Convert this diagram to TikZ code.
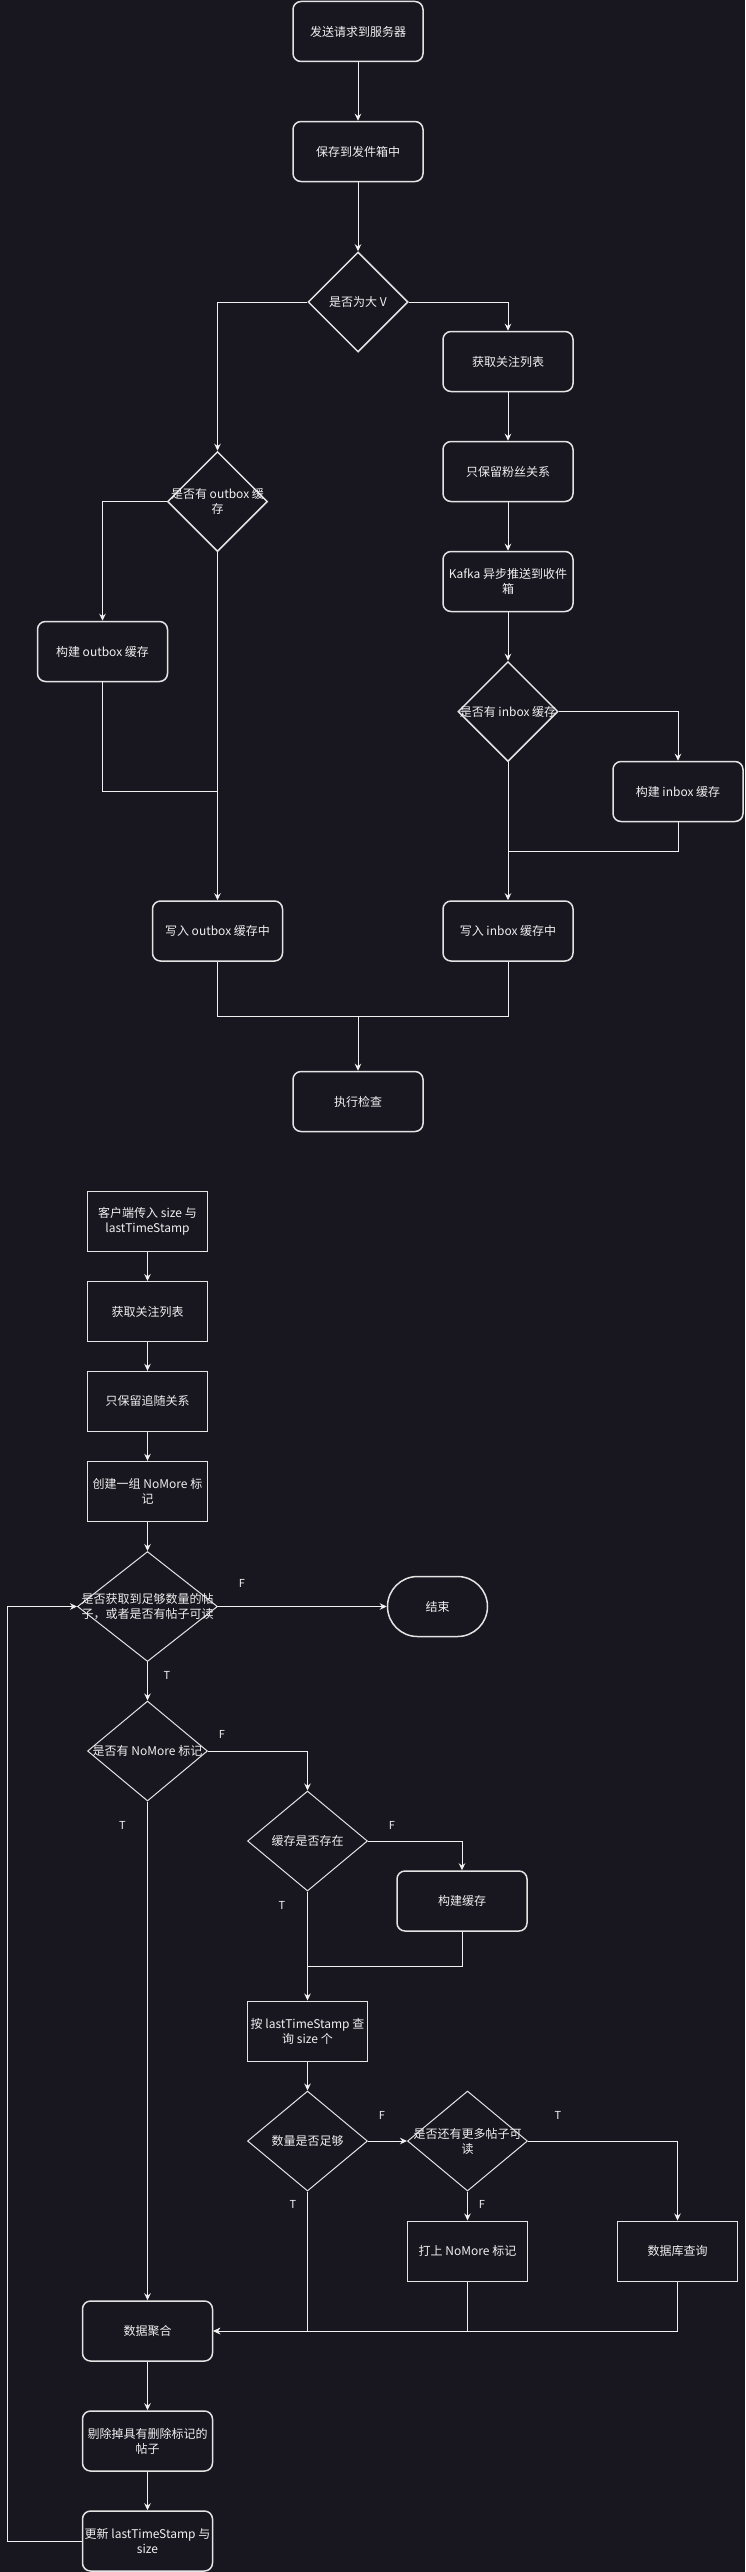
\documentclass[tikz,border=0pt]{standalone}
\usepackage{fontspec}
\setmainfont{Noto Sans CJK SC}
\usetikzlibrary{shapes.geometric,arrows.meta}
\definecolor{bgc}{HTML}{18161F}
\definecolor{lnc}{HTML}{F0F0F0}
\definecolor{shc}{HTML}{E4E4E4}
\definecolor{txc}{HTML}{F0F0F0}
\begin{document}
\begin{tikzpicture}[x=1pt,y=-1pt,
  every node/.style={font=\fontsize{12}{15}\selectfont, text=txc, align=center},
  rbox/.style={draw=shc, line width=1.5pt, rounded corners=8pt, minimum width=130pt, minimum height=60pt, inner sep=0pt},
  sbox/.style={draw=shc, line width=1pt, minimum width=120pt, minimum height=60pt, inner sep=0pt},
  dec/.style={diamond, draw=shc, line width=1pt, inner sep=0pt},
  dect/.style={dec, line width=1.5pt, minimum width=100pt, minimum height=100pt},
  lbl/.style={font=\fontsize{11}{13}\selectfont, inner sep=0pt},
  conn/.style={draw=lnc, line width=1pt, -{Stealth[length=7pt,width=6.5pt]}},
  plain/.style={draw=lnc, line width=1pt},
]
\fill[bgc] (0,0) rectangle (745,2572);
\useasboundingbox (0,0) rectangle (745,2572);

% ---------- top flowchart ----------
\node[rbox] (s1) at (358,31.5) {发送请求到服务器};
\node[rbox] (s2) at (358,151.5) {保存到发件箱中};
\node[dect, label={[name=d1t]center:是否为大 V}] (d1) at (358,302) {};
\node[rbox] (s3) at (508,361.5) {获取关注列表};
\node[rbox] (s4) at (508,471.5) {只保留粉丝关系};
\node[rbox] (s5) at (508,581.5) {Kafka 异步推送到收件\\箱};
\node[dect, label={[name=d2t]center:{是否有 outbox 缓\\存}}] (d2) at (217.5,501.5) {};
\node[rbox] (s6) at (102.5,651.5) {构建 outbox 缓存};
\node[dect, label={[name=d3t]center:是否有 inbox 缓存}] (d3) at (508,711.5) {};
\node[rbox] (s7) at (678,791.5) {构建 inbox 缓存};
\node[rbox] (s8) at (217.5,931) {写入 outbox 缓存中};
\node[rbox] (s9) at (508,931) {写入 inbox 缓存中};
\node[rbox] (s10) at (358,1101.5) {执行检查};
\coordinate (j1) at (217.5,791.5);
\coordinate (j2) at (508,851);
\coordinate (j3) at (358,1016);

\draw[conn] (s1.south) -- (s2.north);
\draw[conn] (s2.south) -- (d1.north);
\draw[conn] (d1.west) -| (d2.north);
\draw[conn] (d1.east) -| (s3.north);
\draw[conn] (s3.south) -- (s4.north);
\draw[conn] (s4.south) -- (s5.north);
\draw[conn] (s5.south) -- (d3.north);
\draw[conn] (d2.west) -| (s6.north);
\draw[conn] (d2.south) -- (s8.north);
\draw[plain] (s6.south) |- (j1);
\draw[conn] (d3.east) -| (s7.north);
\draw[conn] (d3.south) -- (s9.north);
\draw[plain] (s7.south) |- (j2);
\draw[plain] (s8.south) |- (j3) -| (s9.south);
\draw[conn] (j3) -- (s10.north);

% ---------- bottom flowchart ----------
\node[sbox] (b1) at (147.5,1221.3) {客户端传入 size 与\\lastTimeStamp};
\node[sbox] (b2) at (147.5,1311.5) {获取关注列表};
\node[sbox] (b3) at (147.5,1401.3) {只保留追随关系};
\node[sbox] (b4) at (147.5,1491.3) {创建一组 NoMore 标\\记};
\node[dec, minimum width=140pt, minimum height=110pt, label={[name=c1t]center:{是否获取到足够数量的帖\\子，或者是否有帖子可读}}] (c1) at (147.5,1606.5) {};
\node[rbox, minimum width=100pt, rounded corners=30pt] (e) at (437.5,1606.5) {结束};
\node[dec, minimum width=120pt, minimum height=100pt, label={[name=c2t]center:是否有 NoMore 标记}] (c2) at (147.5,1751) {};
\node[dec, minimum width=120pt, minimum height=100pt, label={[name=c3t]center:缓存是否存在}] (c3) at (307.5,1841) {};
\node[rbox] (b5) at (462,1901) {构建缓存};
\node[sbox] (b6) at (307.5,2031) {按 lastTimeStamp 查\\询 size 个};
\node[dec, minimum width=120pt, minimum height=100pt, label={[name=c4t]center:数量是否足够}] (c4) at (307.5,2141) {};
\node[dec, minimum width=120pt, minimum height=100pt, label={[name=c5t]center:{是否还有更多帖子可\\读}}] (c5) at (467.5,2141) {};
\node[sbox] (b7) at (467.5,2251) {打上 NoMore 标记};
\node[sbox] (b8) at (677.5,2251) {数据库查询};
\node[rbox] (b9) at (147.5,2331) {数据聚合};
\node[rbox] (b10) at (147.5,2441) {剔除掉具有删除标记的\\帖子};
\node[rbox] (b11) at (147.5,2541) {更新 lastTimeStamp 与\\size};
\coordinate (k1) at (307.5,1966);
\coordinate (k2) at (467.5,2331);
\coordinate (lp) at (7.5,2541);

\draw[conn] (b1.south) -- (b2.north);
\draw[conn] (b2.south) -- (b3.north);
\draw[conn] (b3.south) -- (b4.north);
\draw[conn] (b4.south) -- (c1.north);
\draw[conn] (c1.east) -- (e.west);
\draw[conn] (c1.south) -- (c2.north);
\draw[conn] (c2.east) -| (c3.north);
\draw[conn] (c2.south) -- (b9.north);
\draw[conn] (c3.east) -| (b5.north);
\draw[conn] (c3.south) -- (b6.north);
\draw[plain] (b5.south) |- (k1);
\draw[conn] (b6.south) -- (c4.north);
\draw[conn] (c4.east) -- (c5.west);
\draw[conn] (c5.east) -| (b8.north);
\draw[conn] (c5.south) -- (b7.north);
\draw[conn] (c4.south) |- (b9.east);
\draw[plain] (b7.south) -- (k2);
\draw[conn] (b8.south) |- (b9.east);
\draw[conn] (b9.south) -- (b10.north);
\draw[conn] (b10.south) -- (b11.north);
\draw[conn] (b11.west) -- (lp) |- (c1.west);

\node[lbl] (f1) at (242,1583) {F};
\node[lbl] (t1) at (167,1675) {T};
\node[lbl] (f2) at (222,1734) {F};
\node[lbl] (t2) at (122.5,1825) {T};
\node[lbl] (f3) at (392,1825) {F};
\node[lbl] (t3) at (282,1905) {T};
\node[lbl] (f4) at (382,2115) {F};
\node[lbl] (t4) at (558,2115) {T};
\node[lbl] (f5) at (482,2204) {F};
\node[lbl] (t5) at (293,2204) {T};
\end{tikzpicture}
\end{document}
